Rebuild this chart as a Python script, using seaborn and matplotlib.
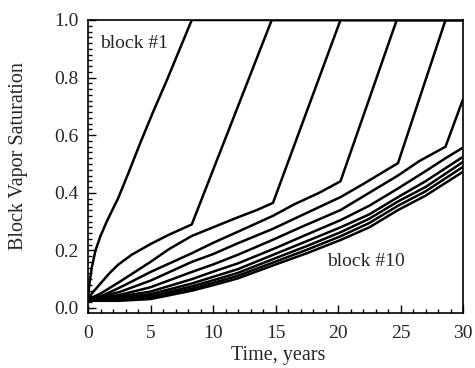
import numpy as np
import pandas as pd
import matplotlib
matplotlib.use("Agg")
import matplotlib.pyplot as plt
from matplotlib.ticker import MultipleLocator
import seaborn as sns

# ---- data (time in years, vapor saturation) ----
t_b1 = [0, 0.1, 0.3, 0.6, 1.0, 1.5, 2.0, 2.4, 3.2, 4.2, 5.2, 6.3, 7.3, 8.3, 30]
s_b1 = [0.03, 0.08, 0.14, 0.20, 0.25, 0.30, 0.345, 0.38, 0.465, 0.575, 0.68, 0.79, 0.895, 1.0, 1.0]

t_b2 = [0, 0.3, 0.7, 1.1, 1.7, 2.4, 3.5, 5.0, 6.5, 8.3, 14.7, 30]
s_b2 = [0.03, 0.05, 0.07, 0.09, 0.12, 0.15, 0.185, 0.222, 0.255, 0.29, 1.0, 1.0]

t_b3 = [0, 1, 2.5, 5, 6.5, 8.3, 10, 12, 13.5, 14.8, 20.2, 30]
s_b3 = [0.03, 0.05, 0.09, 0.16, 0.205, 0.25, 0.28, 0.315, 0.34, 0.365, 1.0, 1.0]

t_b4 = [0, 1, 2.5, 5, 8.3, 10, 12, 14.8, 16.5, 18.5, 20.2, 24.7, 30]
s_b4 = [0.03, 0.04, 0.07, 0.125, 0.19, 0.226, 0.265, 0.32, 0.36, 0.40, 0.44, 1.0, 1.0]

t_b5 = [0, 2.5, 5, 8.3, 10, 12, 14.8, 17, 20.2, 22, 24.8, 28.6, 30]
s_b5 = [0.03, 0.055, 0.095, 0.16, 0.187, 0.225, 0.275, 0.32, 0.385, 0.43, 0.503, 1.0, 1.0]

t_b6 = [0, 2.5, 5, 8.3, 10, 12, 14.8, 17, 20.2, 22.5, 24.8, 26.5, 28.6, 30]
s_b6 = [0.03, 0.045, 0.072, 0.125, 0.151, 0.185, 0.237, 0.28, 0.34, 0.40, 0.46, 0.51, 0.56, 0.725]

t_b7 = [0, 2.5, 5, 8.3, 10, 12, 15, 17.5, 20.2, 22.5, 24.8, 27, 28.6, 30]
s_b7 = [0.03, 0.04, 0.057, 0.10, 0.126, 0.155, 0.208, 0.255, 0.305, 0.355, 0.415, 0.475, 0.52, 0.557]

t_b8 = [0, 2.5, 5, 8.3, 10, 12, 15, 17.5, 20.2, 22.5, 24.8, 27, 30]
s_b8 = [0.028, 0.035, 0.048, 0.085, 0.108, 0.135, 0.188, 0.232, 0.28, 0.325, 0.385, 0.44, 0.525]

t_b9 = [0, 2.5, 5, 8.3, 10, 12, 15, 17.5, 20.2, 22.5, 24.8, 27, 30]
s_b9 = [0.027, 0.031, 0.041, 0.075, 0.096, 0.122, 0.173, 0.215, 0.263, 0.31, 0.37, 0.42, 0.507]

t_b10 = [0, 2.5, 5, 8.3, 10, 12, 15, 17.5, 20.2, 22.5, 24.8, 27, 30]
s_b10 = [0.026, 0.028, 0.036, 0.067, 0.087, 0.112, 0.161, 0.202, 0.249, 0.295, 0.355, 0.405, 0.49]

t_b11 = [0, 2.5, 5, 8.3, 10, 12, 15, 17.5, 20.2, 22.5, 24.8, 27, 30]
s_b11 = [0.025, 0.025, 0.031, 0.06, 0.079, 0.103, 0.151, 0.19, 0.236, 0.28, 0.34, 0.39, 0.473]

x_ticks = [0, 5, 10, 15, 20, 25, 30]
y_ticks = [0.0, 0.2, 0.4, 0.6, 0.8, 1.0]
x_label = "Time, years"
y_label = "Block Vapor Saturation"
label_top = "block #1"
label_bottom = "block #10"

series = [(t_b1, s_b1), (t_b2, s_b2), (t_b3, s_b3), (t_b4, s_b4), (t_b5, s_b5),
          (t_b6, s_b6), (t_b7, s_b7), (t_b8, s_b8), (t_b9, s_b9), (t_b10, s_b10),
          (t_b11, s_b11)]
frames = []
for i, (t, s) in enumerate(series, start=1):
    frames.append(pd.DataFrame({"t": t, "S": s, "block": i}))
df = pd.concat(frames, ignore_index=True)

# ---- styling ----
sns.set_style("ticks")
plt.rcParams["font.family"] = ["Liberation Serif", "DejaVu Serif"]

fig = plt.figure(figsize=(4.75, 3.68), dpi=100)
ax = fig.add_axes([88 / 475, 1 - 313 / 368, 375 / 475, 293 / 368])

sns.lineplot(data=df, x="t", y="S", units="block", estimator=None, sort=False,
             color="black", linewidth=1.8, ax=ax, legend=False)

ax.set_xlim(0, 30)
ax.set_ylim(-0.0174, 1.0)
ax.set_xticks(x_ticks)
ax.set_xticklabels([str(v) for v in x_ticks])
ax.set_yticks(y_ticks)
ax.set_yticklabels([f"{v:.1f}" for v in y_ticks])
ax.xaxis.set_minor_locator(MultipleLocator(1))
ax.yaxis.set_minor_locator(MultipleLocator(0.02))
ax.tick_params(which="both", direction="in", top=False, right=False,
               color="black", width=1.0)
ax.tick_params(which="major", length=6)
ax.tick_params(which="minor", length=3)
ax.tick_params(axis="x", which="major", labelsize=14, pad=9)
ax.tick_params(axis="y", which="major", labelsize=14, pad=7)
for sp in ax.spines.values():
    sp.set_visible(True)
    sp.set_linewidth(1.2)
    sp.set_color("black")

ax.set_xlabel(x_label, fontsize=14.5)
ax.set_ylabel(y_label, fontsize=14.5)
ax.xaxis.set_label_coords(0.507, -0.113)
ax.yaxis.set_label_coords(-0.16, 0.535)

ax.text(0.96, 0.92, label_top, fontsize=14, ha="left", va="center")
ax.text(19.1, 0.16, label_bottom, fontsize=14, ha="left", va="center")

fig.savefig("out.png", dpi=100)
